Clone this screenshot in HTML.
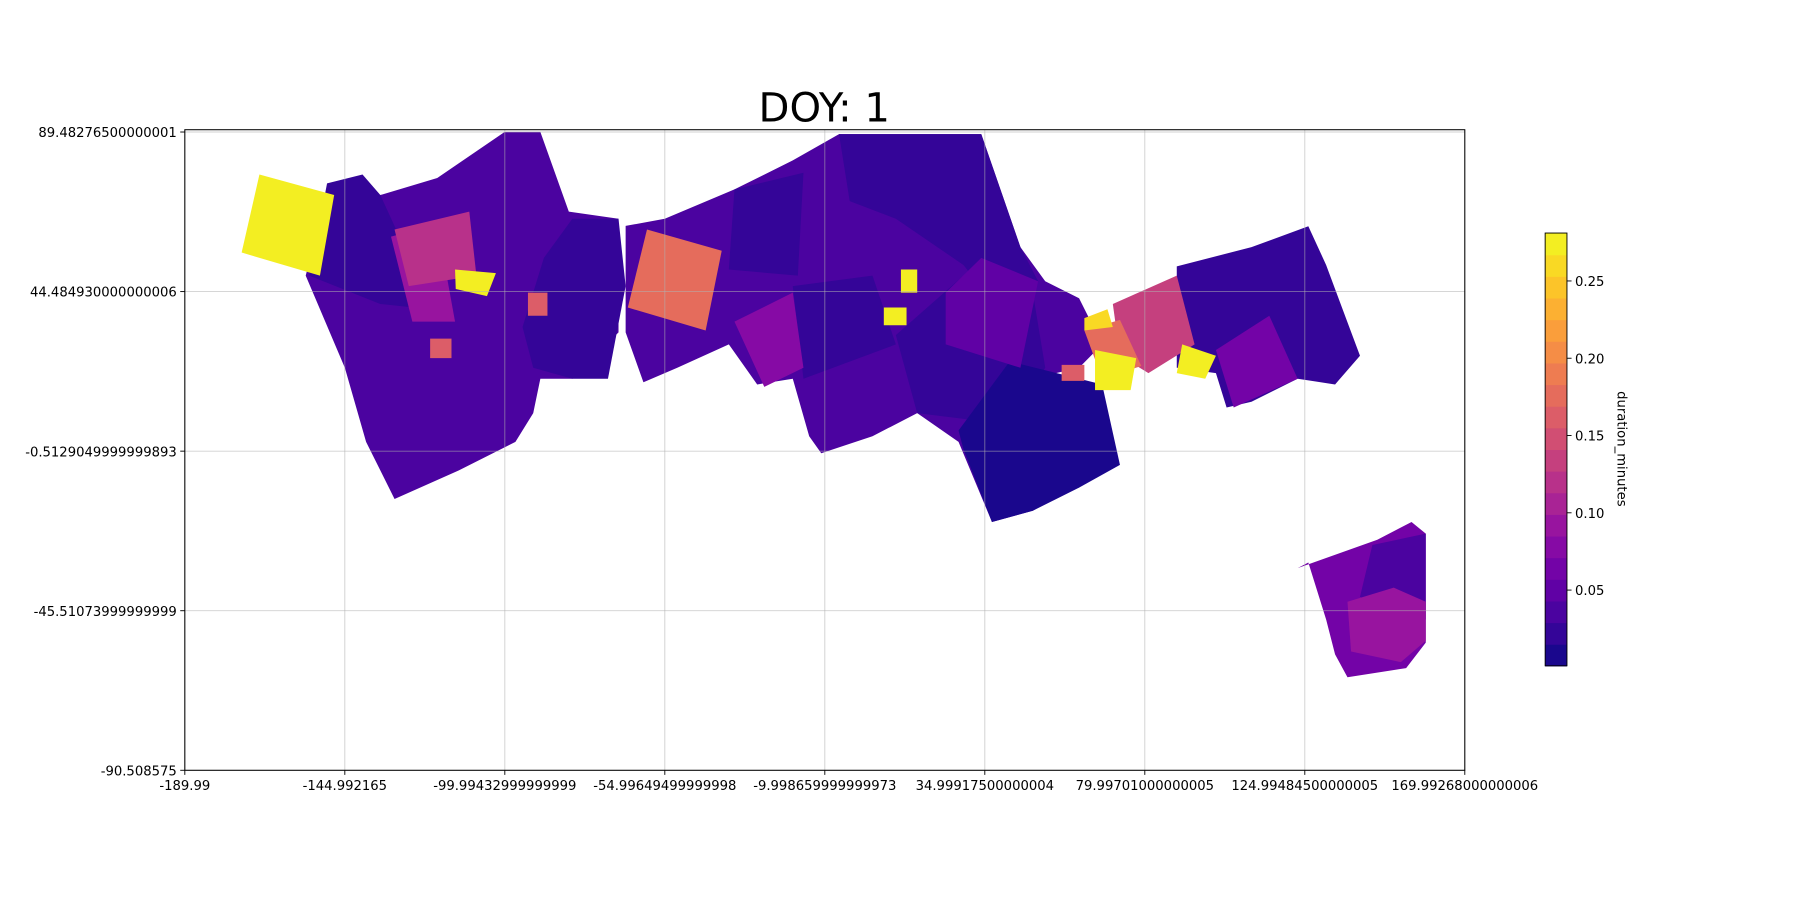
<!DOCTYPE html>
<html><head><meta charset="utf-8"><style>
html,body{margin:0;padding:0;background:#fff;}
svg{display:block;font-family:"DejaVu Sans","Liberation Sans",sans-serif;}
</style></head><body>
<svg id="chart" width="1800" height="900" viewBox="0 0 1568 784" preserveAspectRatio="none" xmlns="http://www.w3.org/2000/svg">
<text x="718" y="106" font-size="35" text-anchor="middle" fill="#000">DOY: 1</text>
<g id="plot"></g>
<g id="cbar"></g>
</svg>
<script>
// axis domain
const xTicks = [-189.99, -144.992165, -99.99432999999999, -54.99649499999998, -9.998659999999973, 34.99917500000004, 79.99701000000005, 124.99484500000005, 169.99268000000006];
const xTickLabels = ["-189.99","-144.992165","-99.99432999999999","-54.99649499999998","-9.998659999999973","34.99917500000004","79.99701000000005","124.99484500000005","169.99268000000006"];
const yTicks = [89.48276500000001, 44.484930000000006, -0.5129049999999893, -45.51073999999999, -90.508575];
const yTickLabels = ["89.48276500000001","44.484930000000006","-0.5129049999999893","-45.51073999999999","-90.508575"];
const cbarTicks = [0.05, 0.10, 0.15, 0.20, 0.25];
const cbarTickLabels = ["0.05","0.10","0.15","0.20","0.25"];
// swath footprints: [lon,lat] vertex lists and duration values
const swathValues = [0.038,0.02,0.02,0.09,0.12,0.28,0.28,0.16,0.16,
 0.038,0.02,0.02,0.02,0.02,0.006,0.17,0.08,0.055,0.28,0.28,
 0.02,0.065,0.13,0.18,0.28,0.28,0.26,0.16,
 0.06,0.035,0.085];
const swathShapes = [
 [[-156,49],[-151,68.5],[-148,71.7],[-135,71.7],[-119,76.5],[-100,89.5],[-90,89.5],[-82,67],[-68,65],[-68,33],[-81,19.9],[-90,19.9],[-92,10.2],[-97,2.1],[-113,-6],[-131,-14],[-139,2.1],[-145,23]],
 [[-155,49],[-150,75],[-140,77.5],[-135,71.7],[-126,52],[-119,39.3],[-135,41]],
 [[-89,54],[-81,65],[-68,65],[-66,46],[-71,19.9],[-81,19.9],[-92,23],[-95,34.5]],
 [[-132,60],[-119,63.6],[-114,36],[-126,36]],
 [[-131,62],[-110,67],[-108,49],[-127,46]],
 [[-169,77.5],[-148,71.7],[-152,49],[-174,55.5]],
 [[-114,50.7],[-102.5,49.7],[-105,43.2],[-113.8,45.2]],
 [[-93.5,44.2],[-88,44.2],[-88,37.7],[-93.5,37.7]],
 [[-121,31.2],[-115,31.2],[-115,25.7],[-121,25.7]],
 [[-66,63],[-55,65],[-35.4,73.3],[-19,81.5],[-6,88.9],[34,88.9],[45,57],[52,47.4],[61.5,42.6],[68,29.6],[61.5,23],[55,21.5],[71,-4.4],[61.5,-9.2],[48.5,-17.3],[37,-20.5],[27.6,2.1],[16,10.2],[3.4,3.7],[-11,-1.1],[-14.4,3.7],[-19,19.9],[-29,18.3],[-37,29.6],[-51.5,23],[-61,18.9],[-66,33]],
 [[-6,88.9],[34,88.9],[45,57],[50,47.4],[39,39.3],[29,52],[10,65],[-3,70]],
 [[-35.4,73.3],[-16,78],[-17.6,49],[-37,50.7]],
 [[-19,46],[3.4,49],[10,29.6],[-16,19.9]],
 [[10,32.2],[29,49],[48.5,44.2],[52,23],[42,7],[16,10.2]],
 [[42,24.8],[68,18.3],[73,-4.4],[61.5,-10.8],[48.5,-17.3],[37,-20.5],[29,0],[27.6,5.3]],
 [[-60,62],[-39,56],[-43.5,33.5],[-65.4,40]],
 [[-35.4,36],[-19,44.2],[-16,23],[-27,17.6]],
 [[24,44.2],[34,54],[50,47.4],[45,23],[24,29.6]],
 [[11.4,50.7],[16,50.7],[16,44.2],[11.4,44.2]],
 [[6.6,40],[13,40],[13,35],[6.6,35]],
 [[89,51.6],[110,57],[126,62.9],[131,52],[135.7,39.3],[140.5,26.4],[133.5,18.3],[123,19.9],[110,13.4],[103,11.8],[100,21.5],[89,23]],
 [[100,28],[115,37.7],[123,19.9],[105,11.8]],
 [[71,41],[89,49],[94,29.6],[81,21.5],[73,26.4]],
 [[63,33.5],[73,36.5],[79,23.5],[68,19.9]],
 [[66,28],[77.6,25.7],[76,16.7],[66,16.7]],
 [[90.5,29.6],[100,26.4],[97,19.9],[89,21.5]],
 [[63,37],[69.5,39.5],[71,34.5],[63,33.5]],
 [[56.6,23.8],[63,23.8],[63,19.3],[56.6,19.3]],
 [[123,-33.5],[145.4,-25.5],[155,-20.5],[159,-23.8],[159,-54.5],[153.5,-61.7],[137,-64.3],[133.5,-57.8],[131,-48],[126,-31.9]],
 [[144,-27],[159,-23.8],[159,-48],[140.5,-41.6]],
 [[137,-43],[150,-39],[159,-43],[159,-54],[152,-60],[138,-57]]
];
const X0=161,X1=1276,Y0=113,Y1=671,XMIN=-189.99,XMAX=169.99268,YMAX=90.13,YMIN=-90.508575;
const VMIN=0.001,VMAX=0.281;
function sx(v){return X0+(v-XMIN)/(XMAX-XMIN)*(X1-X0);}
function sy(v){return Y1-(v-YMIN)/(YMAX-YMIN)*(Y1-Y0);}
const stops=["#0d0887","#41049d","#6a00a8","#8f0da4","#b12a90","#cc4778","#e16462","#f2844b","#fca636","#fcce25","#f0f921"];
function hex(h){return [1,3,5].map(i=>parseInt(h.substr(i,2),16));}
function plasma(t){t=Math.max(0,Math.min(1,t));const p=t*10,i=Math.min(9,Math.floor(p)),f=p-i;const a=hex(stops[i]),b=hex(stops[i+1]);return "rgb("+a.map((c,k)=>Math.round(c+(b[k]-c)*f)).join(",")+")";}
function col(v){const n=20;let t=(v-VMIN)/(VMAX-VMIN);t=(Math.floor(Math.min(t,0.9999)*n)+0.5)/n;return plasma(t);}
const NS="http://www.w3.org/2000/svg";
function mk(tag,attrs,parent){const e=document.createElementNS(NS,tag);for(const k in attrs)e.setAttribute(k,attrs[k]);parent.appendChild(e);return e;}
const plot=document.getElementById('plot');
swathShapes.forEach((poly,i)=>{
 const p=mk('polygon',{points:poly.map(q=>sx(q[0]).toFixed(1)+","+sy(q[1]).toFixed(1)).join(" "),fill:col(swathValues[i])},plot);
 
 
});
xTicks.forEach((v,i)=>{
 const g=mk('line',{x1:sx(v),x2:sx(v),y1:Y0,y2:Y1,stroke:"#b0b0b0","stroke-width":0.8,"stroke-opacity":0.6},plot);
 
 
 mk('line',{x1:sx(v),x2:sx(v),y1:Y1,y2:Y1+4,stroke:"#000","stroke-width":0.8},plot);
 const t=mk('text',{x:sx(v),y:Y1+17,"font-size":11.5,"text-anchor":"middle",fill:"#000"},plot);
 t.textContent=xTickLabels[i];
 
 
});
yTicks.forEach((v,i)=>{
 const g=mk('line',{x1:X0,x2:X1,y1:sy(v),y2:sy(v),stroke:"#b0b0b0","stroke-width":0.8,"stroke-opacity":0.6},plot);
 
 
 mk('line',{x1:X0-4,x2:X0,y1:sy(v),y2:sy(v),stroke:"#000","stroke-width":0.8},plot);
 const t=mk('text',{x:X0-7,y:sy(v)+4.5,"font-size":11.5,"text-anchor":"end",fill:"#000"},plot);
 t.textContent=yTickLabels[i];
 
 
});
const frame=mk('rect',{x:X0,y:Y0,width:X1-X0,height:Y1-Y0,fill:"none",stroke:"#000","stroke-width":0.9},plot);


// colorbar
const cb=document.getElementById('cbar');
const CX=1346,CW=19,CT=203,CB=580;
function cy(v){return CB-(v-VMIN)/(VMAX-VMIN)*(CB-CT);}
for(let k=0;k<20;k++){
 const h=(CB-CT)/20;
 const r=mk('rect',{x:CX,y:CB-(k+1)*h,width:CW,height:h+0.5,fill:plasma((k+0.5)/20)},cb);
 
 
}
mk('rect',{x:CX,y:CT,width:CW,height:CB-CT,fill:"none",stroke:"#000","stroke-width":0.8},cb);
cbarTicks.forEach((v,i)=>{
 mk('line',{x1:CX+CW,x2:CX+CW+4,y1:cy(v),y2:cy(v),stroke:"#000","stroke-width":0.8},cb);
 const t=mk('text',{x:CX+CW+7,y:cy(v)+4.5,"font-size":11.5,fill:"#000"},cb);
 t.textContent=cbarTickLabels[i];
 
 
});
const lab=mk('text',{x:1409,y:391,"font-size":11.5,"text-anchor":"middle",fill:"#000",transform:"rotate(90 1409 391)"},cb);
lab.textContent="duration_minutes";


</script>
</body></html>
